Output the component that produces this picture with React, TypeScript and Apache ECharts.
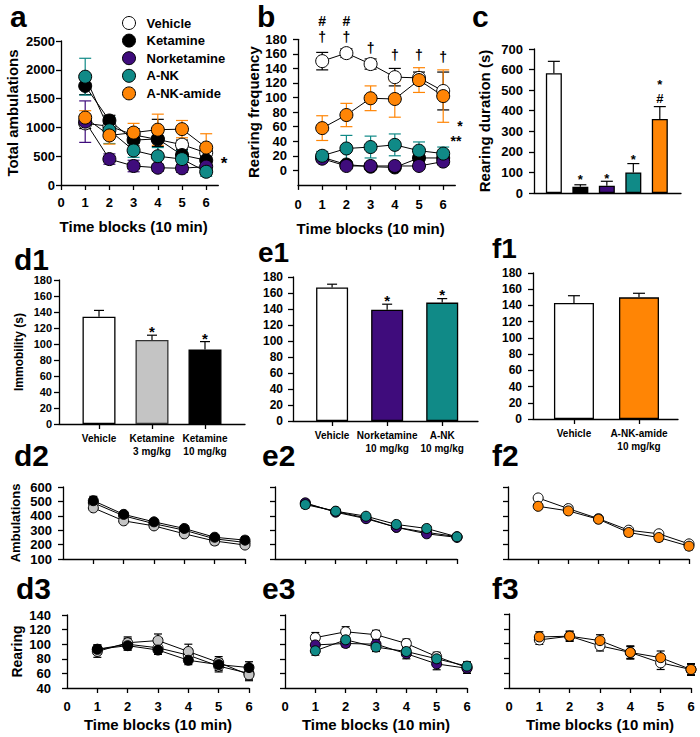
import React, { useEffect, useRef } from 'react';
import * as echarts from 'echarts';

const FONT = '"Liberation Sans", Arial, Helvetica, sans-serif';

const COL_VEHICLE = '#ffffff';
const COL_KET = '#000000';
const COL_NOR = '#3f0c7c';
const COL_ANK = '#108a87';
const COL_AMIDE = '#ff8505';
const COL_GRAY = '#c4c4c4';

const timeBlocks = [1, 2, 3, 4, 5, 6];
const timeTicks = [0, 1, 2, 3, 4, 5, 6];

// ---- panel a : total ambulations ----
const groupNames = ['Vehicle', 'Ketamine', 'Norketamine', 'A-NK', 'A-NK-amide'];
const aVehicle = [1070, 1020, 870, 790, 700, 560];
const aVehicleErr = [90, 100, 110, 120, 80, 70];
const aKetamine = [1720, 1120, 780, 800, 520, 430];
const aKetamineErr = [150, 90, 100, 340, 90, 90];
const aNorketamine = [1100, 450, 330, 300, 290, 320];
const aNorketamineErr = [360, 90, 100, 60, 70, 80];
const aANK = [1880, 950, 600, 500, 450, 230];
const aANKErr = [320, 230, 120, 150, 150, 80];
const aAmide = [1170, 860, 910, 960, 970, 650];
const aAmideErr = [120, 150, 160, 270, 150, 240];

// ---- panel b : rearing frequency ----
const bVehicle = [150, 161, 146, 128, 127, 109];
const bVehicleErr = [12, 6, 7, 12, 8, 26];
const bKetamine = [18, 8, 5, 4, 17, 17];
const bKetamineErr = [3, 3, 2, 2, 4, 4];
const bNorketamine = [16, 6, 6, 6, 6, 12];
const bNorketamineErr = [3, 3, 4, 4, 4, 4];
const bANK = [20, 30, 32, 35, 27, 23];
const bANKErr = [6, 18, 15, 15, 12, 9];
const bAmide = [58, 76, 99, 98, 124, 102];
const bAmideErr = [17, 16, 17, 25, 17, 36];

// ---- panel c : rearing duration ----
const cValues = [582, 30, 35, 100, 360];
const cErr = [58, 10, 22, 43, 60];

// ---- d1 / e1 / f1 : immobility ----
const d1Groups = ['Vehicle', 'Ketamine\n3 mg/kg', 'Ketamine\n10 mg/kg'];
const d1Values = [134, 105, 93];
const d1Err = [8, 6, 10];
const e1Groups = ['Vehicle', 'Norketamine\n10 mg/kg', 'A-NK\n10 mg/kg'];
const e1Values = [167, 139, 148];
const e1Err = [4, 7, 5];
const f1Groups = ['Vehicle', 'A-NK-amide\n10 mg/kg'];
const f1Values = [143, 150];
const f1Err = [9, 5];

// ---- d2 / e2 / f2 : ambulations ----
const d2Vehicle = [490, 400, 345, 300, 240, 215];
const d2VehicleErr = [20, 15, 15, 15, 20, 25];
const d2K3 = [455, 365, 330, 275, 225, 197];
const d2K3Err = [15, 15, 15, 15, 25, 20];
const d2K10 = [505, 410, 358, 312, 251, 231];
const d2K10Err = [30, 15, 15, 20, 15, 25];
const e2Vehicle = [485, 430, 385, 320, 285, 255];
const e2VehicleErr = [20, 15, 15, 15, 15, 10];
const e2Nor = [490, 425, 380, 320, 275, 250];
const e2NorErr = [20, 15, 20, 20, 20, 15];
const e2ANK = [478, 432, 397, 340, 312, 254];
const e2ANKErr = [25, 15, 15, 15, 15, 15];
const f2Vehicle = [524, 450, 380, 300, 275, 205];
const f2VehicleErr = [15, 15, 15, 15, 20, 20];
const f2Amide = [466, 434, 376, 284, 249, 189];
const f2AmideErr = [20, 15, 15, 25, 25, 25];

// ---- d3 / e3 / f3 : rearing ----
const d3Vehicle = [93, 100, 95, 85, 70, 60];
const d3VehicleErr = [6, 8, 6, 8, 8, 8];
const d3K3 = [90, 102, 105, 90, 75, 58];
const d3K3Err = [8, 8, 9, 10, 8, 8];
const d3K10 = [93, 98, 92, 78, 72, 68];
const d3K10Err = [6, 6, 6, 6, 8, 8];
const e3Vehicle = [109, 117, 113, 101, 83, 68];
const e3VehicleErr = [7, 7, 6, 6, 6, 6];
const e3Nor = [99, 101, 100, 87, 73, 67];
const e3NorErr = [6, 5, 6, 7, 8, 7];
const e3ANK = [91, 106, 96, 90, 80, 70];
const e3ANKErr = [6, 7, 6, 6, 7, 6];
const f3Vehicle = [105, 110, 97, 88, 74, 65];
const f3VehicleErr = [6, 6, 7, 8, 9, 7];
const f3Amide = [109, 110, 104, 88, 81, 65];
const f3AmideErr = [7, 7, 8, 9, 9, 8];

// ---- significance marks ----
const aMarks = [[6.74, 434]];
const aMarkTexts = ['*'];
const bMarks = [[1, 205], [2, 205], [1, 183], [2, 183], [3, 168], [4, 158], [5, 158], [6, 156], [6.69, 65], [6.53, 44]];
const bMarkTexts = ['#', '#', '†', '†', '†', '†', '†', '†', '*', '**'];
const cMarks = [[2, 78], [3, 83], [4, 175], [5, 540], [5, 460]];
const cMarkTexts = ['*', '*', '*', '*', '#'];
const d1Marks = [[2, 120], [3, 111]];
const e1Marks = [[2, 155], [3, 162.5]];

const panelLetters = [
  { t: 'a', x: 10, y: 16.5, s: 30 }, { t: 'b', x: 257, y: 16.5, s: 30 }, { t: 'c', x: 472, y: 16.5, s: 30 },
  { t: 'd1', x: 14, y: 259, s: 30 }, { t: 'e1', x: 258, y: 252, s: 28 }, { t: 'f1', x: 492, y: 248, s: 28 },
  { t: 'd2', x: 14, y: 455, s: 30 }, { t: 'e2', x: 262, y: 455, s: 30 }, { t: 'f2', x: 492, y: 455, s: 30 },
  { t: 'd3', x: 16, y: 588, s: 30 }, { t: 'e3', x: 262, y: 588, s: 30 }, { t: 'f3', x: 492, y: 588, s: 30 },
];

const LS = { color: '#000', width: 1.3 };

function lineSeries(name: string, gi: number, ys: number[], color: string, size: number) {
  return {
    type: 'line', name, xAxisIndex: gi, yAxisIndex: gi,
    data: timeBlocks.map((t, i) => [t, ys[i]]),
    symbol: 'circle', symbolSize: size,
    lineStyle: { color: '#000', width: 1 },
    itemStyle: { color, borderColor: '#000', borderWidth: 1 },
    z: 3, silent: true, animation: false,
  };
}

function errSeries(gi: number, xs: number[], ys: number[], es: number[], color: string, cap: number, both: boolean) {
  return {
    type: 'custom', xAxisIndex: gi, yAxisIndex: gi, coordinateSystem: 'cartesian2d',
    data: xs.map((x, i) => [x, ys[i], es[i]]),
    encode: { x: 0, y: 1 },
    z: 2, silent: true, clip: false,
    renderItem: (params: any, api: any) => {
      const x = api.value(0), y = api.value(1), e = api.value(2);
      const t = api.coord([x, y + e]);
      const b = api.coord([x, both ? y - e : y]);
      const style = { stroke: color, lineWidth: 1.2 };
      const children: any[] = [
        { type: 'line', shape: { x1: b[0], y1: b[1], x2: t[0], y2: t[1] }, style },
        { type: 'line', shape: { x1: t[0] - cap, y1: t[1], x2: t[0] + cap, y2: t[1] }, style },
      ];
      if (both) children.push({ type: 'line', shape: { x1: b[0] - cap, y1: b[1], x2: b[0] + cap, y2: b[1] }, style });
      return { type: 'group', children };
    },
  };
}

function markSeries(gi: number, pts: number[][], texts: string[], size: number) {
  return {
    type: 'custom', xAxisIndex: gi, yAxisIndex: gi, coordinateSystem: 'cartesian2d',
    data: pts, encode: { x: 0, y: 1 }, z: 6, silent: true, clip: false,
    renderItem: (params: any, api: any) => {
      const p = api.coord([api.value(0), api.value(1)]);
      const t = texts[params.dataIndex];
      const dy = t.charAt(0) === '*' ? size * 0.22 : 0;
      return {
        type: 'text', x: p[0], y: p[1] + dy,
        style: { text: t, fill: '#000', font: `bold ${size}px ${FONT}`, align: 'center', verticalAlign: 'middle', textAlign: 'center', textVerticalAlign: 'middle' },
      };
    },
  };
}

function barSeries(gi: number, values: number[], colors: string[], borders: string[], width: number) {
  return {
    type: 'bar', xAxisIndex: gi, yAxisIndex: gi, barWidth: width, silent: true, z: 2,
    data: values.map((v, i) => ({ value: [i + 1, v], itemStyle: { color: colors[i], borderColor: borders[i], borderWidth: 1.3 } })),
  };
}

function timePanel(gi: number, defs: { name: string; ys: number[]; err: number[]; color: string; errColor: string }[], size: number, cap: number) {
  const out: any[] = [];
  defs.forEach((d) => out.push(errSeries(gi, timeBlocks, d.ys, d.err, d.errColor, cap, true)));
  defs.forEach((d) => out.push(lineSeries(d.name, gi, d.ys, d.color, size)));
  return out;
}

function yAxis(gi: number, min: number, max: number, interval: number, o: any = {}) {
  return {
    type: 'value', gridIndex: gi, min, max, interval,
    axisLine: { show: true, onZero: false, lineStyle: LS },
    axisTick: { show: true, length: 5, lineStyle: LS, ...(o.tickValues ? { customValues: o.tickValues } : {}) },
    axisLabel: {
      show: o.showLabel !== false, fontSize: o.fontSize || 13, fontWeight: 'bold', fontFamily: FONT, color: '#000', margin: o.margin ?? 8,
      formatter: (v: number) => String(v),
      ...(o.tickValues ? { customValues: o.tickValues } : {}),
    },
    splitLine: { show: false },
    name: o.name || '', nameLocation: 'middle', nameGap: o.nameGap || 30,
    nameTextStyle: { fontSize: o.nameSize || 15, fontWeight: 'bold', fontFamily: FONT, color: '#000' },
  };
}

function xTimeAxis(gi: number, max: number, o: any = {}) {
  return {
    type: 'value', gridIndex: gi, min: 0, max, interval: 1,
    axisLine: { show: true, onZero: false, lineStyle: LS },
    axisTick: { show: true, length: 5, lineStyle: LS, customValues: o.tickValues || timeTicks },
    axisLabel: {
      show: o.showLabel !== false, customValues: timeTicks, fontSize: 13, fontWeight: 'bold', fontFamily: FONT, color: '#000', margin: o.margin ?? 12,
      formatter: (v: number) => (Number.isInteger(v) ? String(v) : ''),
    },
    splitLine: { show: false },
    name: o.name || '', nameLocation: 'middle', nameGap: o.nameGap || 30,
    nameTextStyle: { fontSize: 15, fontWeight: 'bold', fontFamily: FONT, color: '#000', padding: o.namePadding || 0 },
  };
}

function xCatAxis(gi: number, min: number, max: number, groups: string[] | null, fontSize = 10) {
  const vals = groups ? groups.map((_, i) => i + 1) : [];
  return {
    type: 'value', gridIndex: gi, min, max,
    axisLine: { show: true, onZero: false, lineStyle: LS },
    axisTick: { show: !!groups, length: 5, lineStyle: LS, customValues: vals },
    axisLabel: {
      show: !!groups, customValues: vals, fontSize, fontWeight: 'bold', fontFamily: FONT, color: '#000', lineHeight: 13, margin: 8,
      formatter: (v: number) => (groups && Number.isInteger(v) ? groups[v - 1] || '' : ''),
    },
    splitLine: { show: false },
  };
}

function buildOption(): any {
  const grids = [
    { left: 61, top: 41, width: 157.3, height: 144 },
    { left: 298, top: 39.3, width: 157.3, height: 145.6 },
    { left: 534, top: 49, width: 147, height: 144 },
    { left: 59, top: 280, width: 186, height: 144 },
    { left: 293, top: 277, width: 185, height: 144 },
    { left: 533, top: 273, width: 145, height: 146 },
    { left: 63, top: 487, width: 182, height: 72 },
    { left: 275, top: 487, width: 182, height: 72 },
    { left: 508, top: 487, width: 181, height: 72 },
    { left: 67, top: 615, width: 182, height: 73 },
    { left: 285, top: 615, width: 182, height: 73 },
    { left: 509, top: 614, width: 182, height: 74 },
  ].map((g) => ({ ...g, show: false, containLabel: false, outerBoundsMode: 'none' }));

  const bTicks = [0, 20, 40, 60, 80, 100, 120, 140, 160, 180];
  const t16 = [1, 2, 3, 4, 5, 6];

  const xAxes = [
    xTimeAxis(0, 6.5, { name: 'Time blocks (10 min)', nameGap: 34, margin: 11, namePadding: [0, 12, 0, 0] }),
    xTimeAxis(1, 6.5, { name: 'Time blocks (10 min)', nameGap: 36, margin: 13, namePadding: [0, 12, 0, 0] }),
    xCatAxis(2, 0.25, 5.8, null),
    xCatAxis(3, 0.245, 3.755, d1Groups),
    xCatAxis(4, 0.29, 3.65, e1Groups),
    xCatAxis(5, 0.37, 2.6, f1Groups),
    xTimeAxis(6, 6, { showLabel: false, tickValues: t16 }),
    xTimeAxis(7, 6, { showLabel: false, tickValues: t16 }),
    xTimeAxis(8, 6, { showLabel: false, tickValues: t16 }),
    xTimeAxis(9, 6, { name: 'Time blocks (10 min)', nameGap: 29, margin: 12, tickValues: t16 }),
    xTimeAxis(10, 6, { name: 'Time blocks (10 min)', nameGap: 29, margin: 12, tickValues: t16 }),
    xTimeAxis(11, 6, { name: 'Time blocks (10 min)', nameGap: 29, margin: 12, tickValues: t16 }),
  ];

  const yAxes = [
    yAxis(0, 0, 2500, 500, { name: 'Total ambulations', nameGap: 41, margin: 6 }),
    yAxis(1, -20, 180, 20, { name: 'Rearing frequency', nameGap: 34, margin: 11, tickValues: bTicks }),
    yAxis(2, 0, 700, 100, { name: 'Rearing duration (s)', nameGap: 42, margin: 11 }),
    yAxis(3, 0, 180, 20, { name: 'Immobility (s)', nameGap: 34, margin: 7, fontSize: 11, nameSize: 12 }),
    yAxis(4, 0, 180, 20, { margin: 10, fontSize: 12 }),
    yAxis(5, 0, 180, 20, { margin: 11, fontSize: 12 }),
    yAxis(6, 100, 600, 100, { name: 'Ambulations', nameGap: 41, margin: 11, fontSize: 13, nameSize: 13 }),
    yAxis(7, 100, 600, 100, { showLabel: false }),
    yAxis(8, 100, 600, 100, { showLabel: false }),
    yAxis(9, 40, 140, 20, { name: 'Rearing', nameGap: 43, margin: 16, fontSize: 13, nameSize: 14 }),
    yAxis(10, 40, 140, 20, { showLabel: false }),
    yAxis(11, 40, 140, 20, { showLabel: false }),
  ];

  const series: any[] = [];
  series.push(...timePanel(0, [
    { name: 'Vehicle', ys: aVehicle, err: aVehicleErr, color: COL_VEHICLE, errColor: '#000' },
    { name: 'Ketamine', ys: aKetamine, err: aKetamineErr, color: COL_KET, errColor: '#000' },
    { name: 'Norketamine', ys: aNorketamine, err: aNorketamineErr, color: COL_NOR, errColor: COL_NOR },
    { name: 'A-NK', ys: aANK, err: aANKErr, color: COL_ANK, errColor: COL_ANK },
    { name: 'A-NK-amide', ys: aAmide, err: aAmideErr, color: COL_AMIDE, errColor: COL_AMIDE },
  ], 13, 6));
  series.push(...timePanel(1, [
    { name: 'b Vehicle', ys: bVehicle, err: bVehicleErr, color: COL_VEHICLE, errColor: '#000' },
    { name: 'b Ketamine', ys: bKetamine, err: bKetamineErr, color: COL_KET, errColor: '#000' },
    { name: 'b Norketamine', ys: bNorketamine, err: bNorketamineErr, color: COL_NOR, errColor: COL_NOR },
    { name: 'b A-NK', ys: bANK, err: bANKErr, color: COL_ANK, errColor: COL_ANK },
    { name: 'b A-NK-amide', ys: bAmide, err: bAmideErr, color: COL_AMIDE, errColor: COL_AMIDE },
  ], 13, 6));

  const cColors = [COL_VEHICLE, COL_KET, COL_NOR, COL_ANK, COL_AMIDE];
  series.push(barSeries(2, cValues, cColors, cColors.map(() => '#000'), 16));
  series.push(errSeries(2, [1, 2, 3, 4, 5], cValues, cErr, '#000', 6, false));
  series.push(barSeries(3, d1Values, [COL_VEHICLE, COL_GRAY, COL_KET], ['#000', '#333', '#000'], 33));
  series.push(errSeries(3, [1, 2, 3], d1Values, d1Err, '#000', 5, false));
  series.push(barSeries(4, e1Values, [COL_VEHICLE, COL_NOR, COL_ANK], ['#000', '#000', '#000'], 32));
  series.push(errSeries(4, [1, 2, 3], e1Values, e1Err, '#000', 5, false));
  series.push(barSeries(5, f1Values, [COL_VEHICLE, COL_AMIDE], ['#000', '#000'], 40));
  series.push(errSeries(5, [1, 2], f1Values, f1Err, '#000', 6, false));

  series.push(...timePanel(6, [
    { name: 'd2 Vehicle', ys: d2Vehicle, err: d2VehicleErr, color: COL_VEHICLE, errColor: '#000' },
    { name: 'd2 Ketamine 3', ys: d2K3, err: d2K3Err, color: COL_GRAY, errColor: '#000' },
    { name: 'd2 Ketamine 10', ys: d2K10, err: d2K10Err, color: COL_KET, errColor: '#000' },
  ], 10, 4));
  series.push(...timePanel(7, [
    { name: 'e2 Vehicle', ys: e2Vehicle, err: e2VehicleErr, color: COL_VEHICLE, errColor: '#000' },
    { name: 'e2 Norketamine', ys: e2Nor, err: e2NorErr, color: COL_NOR, errColor: '#000' },
    { name: 'e2 A-NK', ys: e2ANK, err: e2ANKErr, color: COL_ANK, errColor: '#000' },
  ], 10, 4));
  series.push(...timePanel(8, [
    { name: 'f2 Vehicle', ys: f2Vehicle, err: f2VehicleErr, color: COL_VEHICLE, errColor: '#000' },
    { name: 'f2 A-NK-amide', ys: f2Amide, err: f2AmideErr, color: COL_AMIDE, errColor: '#000' },
  ], 10, 4));
  series.push(...timePanel(9, [
    { name: 'd3 Vehicle', ys: d3Vehicle, err: d3VehicleErr, color: COL_VEHICLE, errColor: '#000' },
    { name: 'd3 Ketamine 3', ys: d3K3, err: d3K3Err, color: COL_GRAY, errColor: '#000' },
    { name: 'd3 Ketamine 10', ys: d3K10, err: d3K10Err, color: COL_KET, errColor: '#000' },
  ], 10, 4));
  series.push(...timePanel(10, [
    { name: 'e3 Vehicle', ys: e3Vehicle, err: e3VehicleErr, color: COL_VEHICLE, errColor: '#000' },
    { name: 'e3 Norketamine', ys: e3Nor, err: e3NorErr, color: COL_NOR, errColor: '#000' },
    { name: 'e3 A-NK', ys: e3ANK, err: e3ANKErr, color: COL_ANK, errColor: '#000' },
  ], 10, 4));
  series.push(...timePanel(11, [
    { name: 'f3 Vehicle', ys: f3Vehicle, err: f3VehicleErr, color: COL_VEHICLE, errColor: '#000' },
    { name: 'f3 A-NK-amide', ys: f3Amide, err: f3AmideErr, color: COL_AMIDE, errColor: '#000' },
  ], 10, 4));

  series.push(markSeries(0, aMarks, aMarkTexts, 17));
  series.push(markSeries(1, bMarks, bMarkTexts, 14));
  series.push(markSeries(2, cMarks, cMarkTexts, 13));
  series.push(markSeries(3, d1Marks, ['*', '*'], 15));
  series.push(markSeries(4, e1Marks, ['*', '*'], 15));

  const legendColors = [COL_VEHICLE, COL_KET, COL_NOR, COL_ANK, COL_AMIDE];

  return {
    animation: false,
    backgroundColor: '#ffffff',
    textStyle: { fontFamily: FONT },
    grid: grids,
    xAxis: xAxes,
    yAxis: yAxes,
    legend: {
      orient: 'vertical', left: 117, top: 11, itemWidth: 13, itemHeight: 13, itemGap: 3.6,
      icon: 'circle', selectedMode: false,
      textStyle: { fontSize: 13, fontWeight: 'bold', fontFamily: FONT, color: '#000', padding: [0, 0, 0, 6] },
      data: groupNames.map((n, i) => ({ name: n, icon: 'circle', itemStyle: { color: legendColors[i], borderColor: '#000', borderWidth: 1 } })),
    },
    graphic: panelLetters.map((p) => ({
      type: 'text', x: p.x, y: p.y, silent: true,
      style: { text: p.t, fill: '#000', font: `bold ${p.s}px ${FONT}`, align: 'left', verticalAlign: 'middle', textAlign: 'left', textVerticalAlign: 'middle' },
    })),
    series,
  };
}

export default function App() {
  const ref = useRef<HTMLDivElement>(null);
  useEffect(() => {
    document.body.style.margin = '0';
    const chart = echarts.init(ref.current as HTMLDivElement, null, { renderer: 'svg', width: 700, height: 737 });
    chart.setOption(buildOption());
    return () => chart.dispose();
  }, []);
  return <div ref={ref} style={{ width: 700, height: 737, background: '#fff' }} />;
}
